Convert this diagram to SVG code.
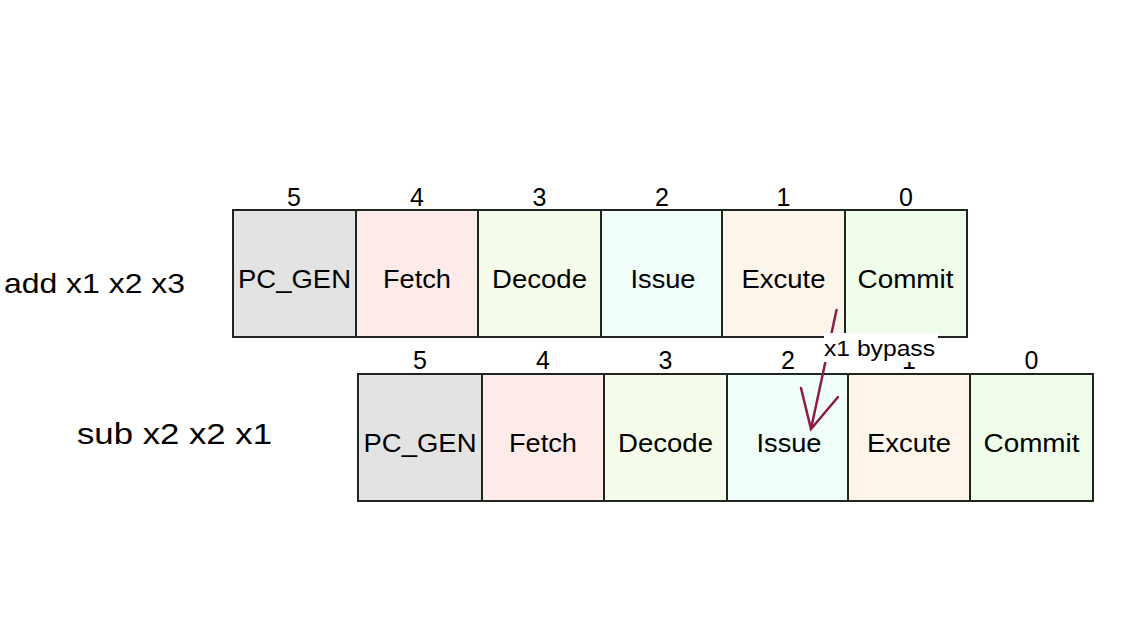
<svg xmlns="http://www.w3.org/2000/svg" width="1123" height="640" viewBox="0 0 1123 640">
<defs>
<style>
.box{stroke:#1f261f;stroke-width:2}
.lbl{font-family:"Liberation Sans",Arial,sans-serif;font-size:26px;fill:#000;text-anchor:middle}
.num{font-family:"Liberation Sans",Arial,sans-serif;font-size:25px;fill:#000;text-anchor:middle}
.ins{font-family:"Liberation Sans",Arial,sans-serif;fill:#000}
.pc{fill:#e3e3e3}.fe{fill:#fcebe8}.de{fill:#f5fdea}.is{fill:#f0fdf8}.ex{fill:#fdf5ea}.co{fill:#effdea}
</style>
</defs>
<rect width="1123" height="640" fill="#fff"/>
<text class="ins" x="4" y="293" font-size="28" textLength="181" lengthAdjust="spacingAndGlyphs">add x1 x2 x3</text>
<text class="ins" x="77" y="444" font-size="29" textLength="195" lengthAdjust="spacingAndGlyphs">sub x2 x2 x1</text>
<g id="row1">
<g id="r1-pc"><rect class="box pc" x="233" y="210" width="123" height="127"/><text class="num" x="294" y="206">5</text><text class="lbl" x="294.5" y="288" textLength="113" lengthAdjust="spacingAndGlyphs">PC_GEN</text></g>
<g id="r1-fe"><rect class="box fe" x="356" y="210" width="122" height="127"/><text class="num" x="417" y="206">4</text><text class="lbl" x="417" y="288" textLength="68" lengthAdjust="spacingAndGlyphs">Fetch</text></g>
<g id="r1-de"><rect class="box de" x="478" y="210" width="123" height="127"/><text class="num" x="539.5" y="206">3</text><text class="lbl" x="539.5" y="288" textLength="95" lengthAdjust="spacingAndGlyphs">Decode</text></g>
<g id="r1-is"><rect class="box is" x="601" y="210" width="121" height="127"/><text class="num" x="662" y="206">2</text><text class="lbl" x="663" y="288" textLength="65" lengthAdjust="spacingAndGlyphs">Issue</text></g>
<g id="r1-ex"><rect class="box ex" x="722" y="210" width="123" height="127"/><text class="num" x="783.5" y="206">1</text><text class="lbl" x="783.5" y="288" textLength="84" lengthAdjust="spacingAndGlyphs">Excute</text></g>
<g id="r1-co"><rect class="box co" x="845" y="210" width="122" height="127"/><text class="num" x="906" y="206">0</text><text class="lbl" x="905.5" y="288" textLength="96" lengthAdjust="spacingAndGlyphs">Commit</text></g>
</g>
<g id="row2">
<g id="r2-pc"><rect class="box pc" x="358" y="374" width="124" height="127"/><text class="num" x="420" y="369">5</text><text class="lbl" x="420" y="452" textLength="113" lengthAdjust="spacingAndGlyphs">PC_GEN</text></g>
<g id="r2-fe"><rect class="box fe" x="482" y="374" width="122" height="127"/><text class="num" x="543" y="369">4</text><text class="lbl" x="543" y="452" textLength="68" lengthAdjust="spacingAndGlyphs">Fetch</text></g>
<g id="r2-de"><rect class="box de" x="604" y="374" width="123" height="127"/><text class="num" x="665.5" y="369">3</text><text class="lbl" x="665.5" y="452" textLength="95" lengthAdjust="spacingAndGlyphs">Decode</text></g>
<g id="r2-is"><rect class="box is" x="727" y="374" width="121" height="127"/><text class="num" x="788" y="369">2</text><text class="lbl" x="789" y="452" textLength="65" lengthAdjust="spacingAndGlyphs">Issue</text></g>
<g id="r2-ex"><rect class="box ex" x="848" y="374" width="122" height="127"/><text class="num" x="909" y="369">1</text><text class="lbl" x="909" y="452" textLength="84" lengthAdjust="spacingAndGlyphs">Excute</text></g>
<g id="r2-co"><rect class="box co" x="970" y="374" width="123" height="127"/><text class="num" x="1031.5" y="369">0</text><text class="lbl" x="1031.5" y="452" textLength="96" lengthAdjust="spacingAndGlyphs">Commit</text></g>
</g>
<g id="connectors" stroke="#8c1c49" stroke-width="2.5" fill="none" stroke-linecap="round">
<line x1="836.5" y1="310" x2="811" y2="429"/>
<polyline points="801,388 811,429 838,397"/>
</g>
<g id="bypass-label">
<rect x="824" y="333" width="114" height="29" fill="#fff"/>
<text class="ins" x="824" y="356" font-size="22" textLength="111" lengthAdjust="spacingAndGlyphs">x1 bypass</text>
</g>
</svg>
